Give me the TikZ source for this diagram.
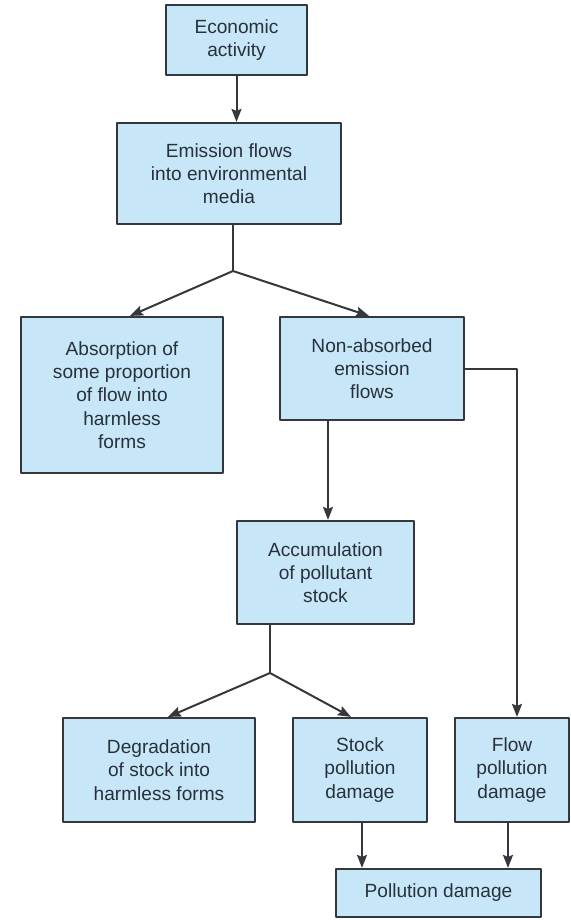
\documentclass[tikz,border=0pt]{standalone}
\usepackage{fontspec}
\setmainfont{Liberation Sans}
\usetikzlibrary{arrows.meta}
\definecolor{boxfill}{RGB}{199,231,248}
\definecolor{boxline}{RGB}{52,56,60}
\definecolor{boxtext}{RGB}{40,48,60}
\begin{document}
\begin{tikzpicture}[x=1pt, y=-1pt, line join=round, >={Stealth[length=13pt,width=10pt,inset=2pt]},
	box/.style={draw=boxline, fill=boxfill, line width=2.2pt, align=center, inner sep=0pt, text=boxtext,
		font=\fontsize{19.1}{23.3}\selectfont},
	link/.style={draw=boxline, line width=2pt}]
	\useasboundingbox (0,0) rectangle (570,920);
	% boxes
	\node[box, minimum width=141pt, minimum height=70pt] (econ) at (236.5,40) {Economic\\activity};
	\node[box, minimum width=224pt, minimum height=101pt] (emis) at (229,173.5) {Emission flows\\into environmental\\media};
	\node[box, minimum width=202pt, minimum height=156pt] (absorb) at (122,395) {Absorption of\\some proportion\\of flow into\\harmless\\forms};
	\node[box, minimum width=184pt, minimum height=103pt] (nonabs) at (372,368.5) {Non-absorbed\\emission\\flows};
	\node[box, minimum width=177pt, minimum height=103pt] (accum) at (325.5,572.5) {Accumulation\\of pollutant\\stock};
	\node[box, minimum width=192pt, minimum height=104pt] (degr) at (159,770) {Degradation\\of stock into\\harmless forms};
	\node[box, minimum width=134pt, minimum height=104pt] (stock) at (360,770) {Stock\\pollution\\damage};
	\node[box, minimum width=114pt, minimum height=104pt] (flowd) at (512,770) {Flow\\pollution\\damage};
	\node[box, minimum width=205pt, minimum height=48pt] (poll) at (438.5,893) {Pollution damage};
	% branch points
	\coordinate (split1) at (233,271);
	\coordinate (split2) at (270,673);
	% connectors
	\draw[link,->] (econ.south) -- (econ.south |- emis.north);
	\draw[link] (split1 |- emis.south) -- (split1);
	\draw[link,->] (split1) -- ([xshift=8pt]absorb.north);
	\draw[link,->] (split1) -- ([xshift=-3pt]nonabs.north);
	\draw[link,->] ([xshift=2.5pt]accum.north |- nonabs.south) -- ([xshift=2.5pt]accum.north);
	\draw[link,->] (nonabs.east) -| ([xshift=5pt]flowd.north);
	\draw[link] (split2 |- accum.south) -- (split2);
	\draw[link,->] (split2) -- ([xshift=9pt]degr.north);
	\draw[link,->] (split2) -- ([xshift=-9pt]stock.north);
	\draw[link,->] ([xshift=2pt]stock.south) -- ([xshift=2pt]stock.south |- poll.north);
	\draw[link,->] ([xshift=-4pt]flowd.south) -- ([xshift=-4pt]flowd.south |- poll.north);
\end{tikzpicture}
\end{document}
